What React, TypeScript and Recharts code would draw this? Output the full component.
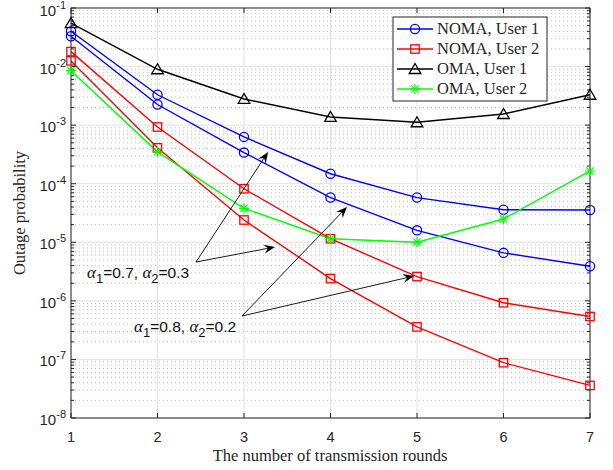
import React from 'react';
import { LineChart, Line, XAxis, YAxis, CartesianGrid, ReferenceLine } from 'recharts';

document.body.style.margin = '0';

// outage probability vs number of transmission rounds
const rounds = [1, 2, 3, 4, 5, 6, 7];
const nomaUser1A = [0.04, 3.3e-3, 6.3e-4, 1.48e-4, 5.8e-5, 3.6e-5, 3.55e-5];
const nomaUser1B = [0.033, 2.25e-3, 3.4e-4, 5.8e-5, 1.6e-5, 6.6e-6, 3.9e-6];
const nomaUser2A = [0.018, 9.3e-4, 8.2e-5, 1.15e-5, 2.6e-6, 9.3e-7, 5.4e-7];
const nomaUser2B = [0.0125, 4.1e-4, 2.4e-5, 2.4e-6, 3.6e-7, 8.8e-8, 3.6e-8];
const omaUser1 = [0.055, 9.0e-3, 2.8e-3, 1.38e-3, 1.12e-3, 1.55e-3, 3.3e-3];
const omaUser2 = [8.5e-3, 3.5e-4, 3.8e-5, 1.15e-5, 1.0e-5, 2.5e-5, 1.65e-4];

const decades = [1e-8, 1e-7, 1e-6, 1e-5, 1e-4, 1e-3, 1e-2, 1e-1];
const decadeExp = ['-8', '-7', '-6', '-5', '-4', '-3', '-2', '-1'];
const minorSteps = [2, 3, 4, 5, 6, 7, 8, 9];

const data = rounds.map((x, i) => ({
  x,
  n1a: nomaUser1A[i],
  n1b: nomaUser1B[i],
  n2a: nomaUser2A[i],
  n2b: nomaUser2B[i],
  o1: omaUser1[i],
  o2: omaUser2[i],
}));

const minorY: number[] = [];
decades.slice(0, -1).forEach(d => minorSteps.forEach(k => minorY.push(d * k)));

const AXIS = '#262626';
const BLUE = '#0000ff';
const RED = '#ff0000';
const BLACK = '#000000';
const GREEN = '#00ff00';

type Kind = 'circle' | 'square' | 'triangle' | 'star';

const marker = (kind: Kind, cx: number, cy: number, color: string, key?: any) => {
  const sw = 1.3;
  if (kind === 'circle')
    return <circle key={key} cx={cx} cy={cy} r={4.6} fill="none" stroke={color} strokeWidth={sw} />;
  if (kind === 'square')
    return <rect key={key} x={cx - 4.2} y={cy - 4.2} width={8.4} height={8.4} fill="none" stroke={color} strokeWidth={sw} />;
  if (kind === 'triangle')
    return (
      <polygon key={key} points={`${cx},${cy - 5.5} ${cx - 5.8},${cy + 4.5} ${cx + 5.8},${cy + 4.5}`}
        fill="none" stroke={color} strokeWidth={sw} />
    );
  const r = 5;
  const d = 3.6;
  return (
    <g key={key} stroke={color} strokeWidth={1.2}>
      <line x1={cx - r} y1={cy} x2={cx + r} y2={cy} />
      <line x1={cx} y1={cy - r} x2={cx} y2={cy + r} />
      <line x1={cx - d} y1={cy - d} x2={cx + d} y2={cy + d} />
      <line x1={cx - d} y1={cy + d} x2={cx + d} y2={cy - d} />
    </g>
  );
};

const dotOf = (kind: Kind, color: string) => (p: any) => marker(kind, p.cx, p.cy, color, p.index);

const series = [
  { key: 'o1', kind: 'triangle' as Kind, color: BLACK },
  { key: 'n1a', kind: 'circle' as Kind, color: BLUE },
  { key: 'n1b', kind: 'circle' as Kind, color: BLUE },
  { key: 'n2a', kind: 'square' as Kind, color: RED },
  { key: 'n2b', kind: 'square' as Kind, color: RED },
  { key: 'o2', kind: 'star' as Kind, color: GREEN },
];

const legendItems = [
  { name: 'NOMA, User 1', kind: 'circle' as Kind, color: BLUE },
  { name: 'NOMA, User 2', kind: 'square' as Kind, color: RED },
  { name: 'OMA, User 1', kind: 'triangle' as Kind, color: BLACK },
  { name: 'OMA, User 2', kind: 'star' as Kind, color: GREEN },
];

const YTick = (props: any) => {
  const i = decades.findIndex(d => Math.abs(d - props.payload.value) / d < 1e-6);
  return (
    <text x={66} y={props.y + 7} textAnchor="end" fontFamily="Liberation Sans, Arial" fontSize={15} fill={AXIS}>
      10<tspan dy={-7} fontSize={11}>{decadeExp[i]}</tspan>
    </text>
  );
};

const XTick = (props: any) => (
  <text x={props.x} y={442} textAnchor="middle" fontFamily="Liberation Sans, Arial" fontSize={14.5} fill={AXIS}>
    {props.payload.value}
  </text>
);

// tick marks inward on all four sides
const tickDec = 5 / 58.6;
const tickX = 5 / 86.5;
const tickXMinor = 3 / 86.5;

const Arrow = ({ x1, y1, x2, y2 }: { x1: number; y1: number; x2: number; y2: number }) => {
  const dx = x2 - x1;
  const dy = y2 - y1;
  const len = Math.hypot(dx, dy);
  const ux = dx / len;
  const uy = dy / len;
  const nx = -uy;
  const ny = ux;
  const L = 11;
  const W = 4.5;
  const bx = x2 - L * ux;
  const by = y2 - L * uy;
  const mx = x2 - 0.65 * L * ux;
  const my = y2 - 0.65 * L * uy;
  return (
    <g>
      <line x1={x1} y1={y1} x2={mx} y2={my} stroke="#000" strokeWidth={0.9} />
      <polygon points={`${x2},${y2} ${bx + W * nx},${by + W * ny} ${mx},${my} ${bx - W * nx},${by - W * ny}`} fill="#000" />
    </g>
  );
};

const AlphaLabel = ({ x, y, a1, a2 }: { x: number; y: number; a1: string; a2: string }) => (
  <text x={x} y={y} fontFamily="Liberation Sans, Arial" fontSize={15.5} fill="#111">
    <tspan fontFamily="Liberation Serif" fontStyle="italic" fontSize={17}>α</tspan>
    <tspan dy={5} fontSize={13}>1</tspan>
    <tspan dy={-5}>{`=${a1}, `}</tspan>
    <tspan fontFamily="Liberation Serif" fontStyle="italic" fontSize={17}>α</tspan>
    <tspan dy={5} fontSize={13}>2</tspan>
    <tspan dy={-5}>{`=${a2}`}</tspan>
  </text>
);

export default function App() {
  return (
    <div style={{ position: 'relative', width: 613, height: 470, background: '#fff' }}>
      <LineChart width={613} height={470} data={data} margin={{ top: 8, right: 23, left: 0, bottom: 0 }}>
        <CartesianGrid stroke="#e2e2e2" />
        <XAxis
          type="number"
          dataKey="x"
          domain={[1, 7]}
          ticks={rounds}
          height={52}
          tickLine={false}
          axisLine={{ stroke: AXIS }}
          tick={<XTick />}
        />
        <YAxis
          scale="log"
          domain={[1e-8, 1e-1]}
          allowDataOverflow
          ticks={decades}
          width={71}
          tickLine={false}
          axisLine={{ stroke: AXIS }}
          tick={<YTick />}
        />
        {minorY.map(v => (
          <ReferenceLine key={`mg${v}`} y={v} stroke="#c4c4c4" strokeDasharray="1 3" />
        ))}
        <ReferenceLine y={1e-1} stroke={AXIS} />
        <ReferenceLine x={7} stroke={AXIS} />
        {rounds.map(x => (
          <ReferenceLine key={`tb${x}`} segment={[{ x, y: 1e-8 }, { x, y: 1e-8 * Math.pow(10, tickDec) }]} stroke={AXIS} />
        ))}
        {rounds.map(x => (
          <ReferenceLine key={`tt${x}`} segment={[{ x, y: 1e-1 }, { x, y: 1e-1 * Math.pow(10, -tickDec) }]} stroke={AXIS} />
        ))}
        {decades.map(v => (
          <ReferenceLine key={`yl${v}`} segment={[{ x: 1, y: v }, { x: 1 + tickX, y: v }]} stroke={AXIS} />
        ))}
        {decades.map(v => (
          <ReferenceLine key={`yr${v}`} segment={[{ x: 7, y: v }, { x: 7 - tickX, y: v }]} stroke={AXIS} />
        ))}
        {minorY.map(v => (
          <ReferenceLine key={`ml${v}`} segment={[{ x: 1, y: v }, { x: 1 + tickXMinor, y: v }]} stroke={AXIS} />
        ))}
        {minorY.map(v => (
          <ReferenceLine key={`mr${v}`} segment={[{ x: 7, y: v }, { x: 7 - tickXMinor, y: v }]} stroke={AXIS} />
        ))}
        {series.map(s => (
          <Line
            key={s.key}
            dataKey={s.key}
            type="linear"
            stroke={s.color}
            strokeWidth={1.4}
            dot={dotOf(s.kind, s.color)}
            activeDot={false}
            isAnimationActive={false}
          />
        ))}
      </LineChart>
      <svg width={613} height={470} style={{ position: 'absolute', left: 0, top: 0, pointerEvents: 'none' }}>
        <text
          x={25}
          y={213}
          transform="rotate(-90 25 213)"
          textAnchor="middle"
          fontFamily="Liberation Serif"
          fontSize={16.5}
          fill={AXIS}
        >
          Outage probability
        </text>
        <text x={330} y={461} textAnchor="middle" fontFamily="Liberation Serif" fontSize={16.5} fill={AXIS}>
          The number of transmission rounds
        </text>

        <rect x={393} y={17} width={154} height={84} fill="#fff" stroke={AXIS} strokeWidth={1} />
        {legendItems.map((it, i) => {
          const cy = 29 + i * 20;
          return (
            <g key={it.name}>
              <line x1={397} y1={cy} x2={433} y2={cy} stroke={it.color} strokeWidth={1.3} />
              {marker(it.kind, 415, cy, it.color)}
              <text x={437} y={cy + 5} fontFamily="Liberation Serif" fontSize={16.5} fill={AXIS}>
                {it.name}
              </text>
            </g>
          );
        })}

        <Arrow x1={196} y1={262} x2={268} y2={152} />
        <Arrow x1={196} y1={262} x2={275} y2={247} />
        <AlphaLabel x={87} y={278} a1="0.7" a2="0.3" />
        <Arrow x1={242} y1={316} x2={347} y2={207} />
        <Arrow x1={242} y1={316} x2={414} y2={276} />
        <AlphaLabel x={134} y={332} a1="0.8" a2="0.2" />
      </svg>
    </div>
  );
}
